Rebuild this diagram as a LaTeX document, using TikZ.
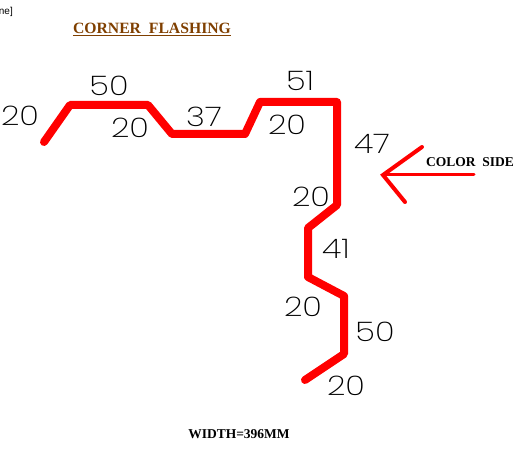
\documentclass[tikz,border=0pt]{standalone}
\usepackage{fontspec}
\setmainfont{Liberation Serif}
\newfontfamily\dimfont[UprightFont={* ExtraLight}]{Poppins}
\newfontfamily\notefont{Liberation Sans}
\usepackage{tikz}
\definecolor{titlebrown}{HTML}{7F3F00}
\tikzstyle{dim} = [font={\dimfont\fontsize{27}{27}\selectfont}, text=black, inner sep=0pt, xscale=1.2]
\tikzstyle{note} = [font={\bfseries\fontsize{13.5}{13.5}\selectfont}, inner sep=0pt]
\tikzstyle{sheet} = [draw=red, line width=8pt, line join=round, line cap=round]
\tikzstyle{barb} = [draw=red, line width=4pt, line cap=round]

\begin{document}
\begin{tikzpicture}[x=1pt,y=-1pt]
  \useasboundingbox (0,0) rectangle (520,462);
  \node[note,text=titlebrown,font={\bfseries\fontsize{15.7}{15.7}\selectfont}](title) at (152,28){CORNER\ \ FLASHING};
  \node[font={\notefont\fontsize{10}{10}\selectfont},inner sep=0pt,anchor=east](clip) at (13,12){ne]};
  \draw[titlebrown,line width=1pt]([yshift=-2pt]title.south west)--([yshift=-2pt]title.south east);
  % flashing profile
  \coordinate (p0) at (44,142);
  \coordinate (p1) at (70,105);
  \coordinate (p2) at (148,105);
  \coordinate (p3) at (172,134);
  \coordinate (p4) at (245,134);
  \coordinate (p5) at (260,102);
  \coordinate (p6) at (337,102);
  \coordinate (p7) at (337,205);
  \coordinate (p8) at (308,228);
  \coordinate (p9) at (308,277);
  \coordinate (p10) at (344,296);
  \coordinate (p11) at (344,354);
  \coordinate (p12) at (305,380);
  \draw[sheet](p0)--(p1)--(p2)--(p3)--(p4)--(p5)--(p6)--(p7)--(p8)--(p9)--(p10)--(p11)--(p12);
  \node[dim](a) at (20,116){20};
  \node[dim](b) at (109,86){50};
  \node[dim](c) at (130,128){20};
  \node[dim](d) at (204,117){37};
  \node[dim](e) at (300,81){51};
  \node[dim](f) at (287,125){20};
  \node[dim](g) at (372,144){47};
  \node[dim](h) at (311,197){20};
  \node[dim](i) at (336,249){41};
  \node[dim](j) at (303,307){20};
  \node[dim](k) at (375,332){50};
  \node[dim](l) at (346,386){20};
  % colour side arrow
  \coordinate (tip) at (383,175);
  \coordinate (tail) at (474,175);
  \coordinate (up) at (422,147);
  \coordinate (down) at (405,202);
  \draw[barb,line width=3pt](tail)--(tip);
  \draw[barb](up)--(tip)--(down);
  \node[note](side) at (470,162){COLOR\ \ SIDE};
  \node[note](width) at (239,434){WIDTH=396MM};
\end{tikzpicture}
\end{document}
